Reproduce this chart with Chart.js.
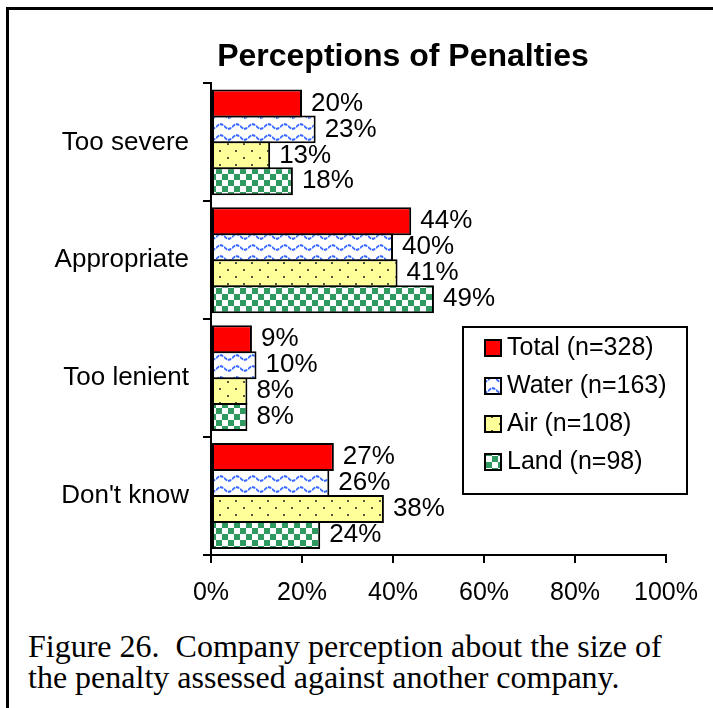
<!DOCTYPE html>
<html>
<head>
<meta charset="utf-8">
<title>Perceptions of Penalties</title>
<script src="https://cdn.jsdelivr.net/npm/chart.js@4/dist/chart.umd.min.js"></script>
<style>
    html, body { margin: 0; padding: 0; background: #fff; }
    body { width: 713px; height: 708px; position: relative; overflow: hidden; }
    #frame {
        position: absolute; left: 6px; top: 7px; width: 720px; height: 720px;
        border-left: 3px solid #000; border-top: 3px solid #000;
    }
    #chart { position: absolute; left: 0; top: 0; }
    #caption {
        position: absolute; left: 28px; top: 631px;
        font-family: 'Liberation Serif', 'Times New Roman', serif;
        font-size: 32px; line-height: 31px; color: #000; white-space: pre;
    }
</style>
</head>
<body>
<div id="frame"></div>
<canvas id="chart" width="713" height="615"></canvas>
<div id="caption">Figure 26.  Company perception about the size of
the penalty assessed against another company.</div>
<script>
// Data
const categories = ['Too severe', 'Appropriate', 'Too lenient', "Don't know"];
const seriesLabels = ['Total (n=328)', 'Water (n=163)', 'Air (n=108)', 'Land (n=98)'];
const totalValues = [20, 44, 9, 27];
const waterValues = [23, 40, 10, 26];
const airValues = [13, 41, 8, 38];
const landValues = [18, 49, 8, 24];
const axisMin = 0;
const axisMax = 100;
const axisStep = 20;

const FONT = "'Liberation Sans', Arial, sans-serif";
const canvas = document.getElementById('chart');
const ctx = canvas.getContext('2d');

// Fill patterns
function makePattern(w, h, draw) {
    const tile = document.createElement('canvas');
    tile.width = w;
    tile.height = h;
    draw(tile.getContext('2d'), w, h);
    return ctx.createPattern(tile, 'repeat');
}

const fills = [
    '#ff0000',
    makePattern(16, 11, (g, w, h) => {
        g.fillStyle = '#ffffff';
        g.fillRect(0, 0, w, h);
        g.fillStyle = '#3366ff';
        for (let x = 0; x < w; x++) {
            if (x % 4 === 3) continue;
            const y = 4.5 + 2.3 * Math.sin(2 * Math.PI * x / w);
            g.fillRect(x, y, 1.3, 2);
        }
    }),
    makePattern(16, 14, (g, w, h) => {
        g.fillStyle = '#ffff99';
        g.fillRect(0, 0, w, h);
        g.fillStyle = '#55553a';
        g.fillRect(3, 3, 2, 2);
        g.fillRect(11, 10, 2, 2);
    }),
    makePattern(12, 12, (g, w, h) => {
        g.fillStyle = '#ffffff';
        g.fillRect(0, 0, w, h);
        g.fillStyle = '#2f9a60';
        g.fillRect(0, 0, 6, 6);
        g.fillRect(6, 6, 6, 6);
    })
];

// Title is centred over the left part of the figure, as in the original
const titlePlacement = {
    id: 'titlePlacement',
    afterLayout(chart) {
        if (chart.titleBlock) {
            chart.titleBlock.left = 140;
            chart.titleBlock.right = chart.chartArea.right;
        }
    }
};

// Value labels at the end of each bar
const valueLabels = {
    id: 'valueLabels',
    afterDatasetsDraw(chart) {
        const c = chart.ctx;
        c.save();
        c.font = `26px ${FONT}`;
        c.fillStyle = '#000';
        c.textAlign = 'left';
        c.textBaseline = 'middle';
        chart.data.datasets.forEach((ds, i) => {
            chart.getDatasetMeta(i).data.forEach((bar, j) => {
                c.fillText(`${ds.data[j]}%`, bar.x + 9, bar.y);
            });
        });
        c.restore();
    }
};

// Boxed legend inside the plot
const boxLegend = {
    id: 'boxLegend',
    afterDraw(chart) {
        const c = chart.ctx;
        c.save();
        c.fillStyle = '#fff';
        c.fillRect(463, 327, 224, 167);
        c.lineWidth = 2;
        c.strokeStyle = '#000';
        c.strokeRect(463, 327, 224, 167);
        c.font = `25px ${FONT}`;
        c.textAlign = 'left';
        c.textBaseline = 'middle';
        chart.data.datasets.forEach((ds, i) => {
            const cy = 348 + i * 38;
            c.fillStyle = ds.backgroundColor;
            c.fillRect(485, cy - 8, 16, 16);
            c.strokeRect(485, cy - 8, 16, 16);
            c.fillStyle = '#000';
            c.fillText(ds.label, 507, cy);
        });
        c.restore();
    }
};

const seriesValues = [totalValues, waterValues, airValues, landValues];

new Chart(canvas, {
    type: 'bar',
    data: {
        labels: categories,
        datasets: seriesValues.map((values, i) => ({
            label: seriesLabels[i],
            data: values,
            backgroundColor: fills[i],
            borderColor: '#000',
            borderWidth: 2,
            borderSkipped: false,
            categoryPercentage: 0.881,
            barPercentage: 28 / 26
        }))
    },
    options: {
        indexAxis: 'y',
        responsive: false,
        animation: false,
        events: [],
        layout: {
            padding: { left: 0, right: 43, top: 0, bottom: 0 }
        },
        plugins: {
            legend: { display: false },
            tooltip: { enabled: false },
            title: {
                display: true,
                text: 'Perceptions of Penalties',
                color: '#000',
                font: { family: FONT, size: 32, weight: 'bold' },
                padding: { top: 38, bottom: 7 }
            }
        },
        scales: {
            x: {
                min: axisMin,
                max: axisMax,
                ticks: {
                    stepSize: axisStep,
                    callback: (v) => `${v}%`,
                    color: '#000',
                    font: { family: FONT, size: 25 },
                    padding: 15,
                    maxRotation: 0
                },
                grid: { drawOnChartArea: false, tickLength: 8, color: '#000', lineWidth: 2 },
                border: { color: '#000', width: 2 },
                afterFit: (scale) => { scale.height = 60; }
            },
            y: {
                ticks: {
                    color: '#000',
                    font: { family: FONT, size: 26 },
                    padding: 14
                },
                grid: { drawOnChartArea: false, tickLength: 8, color: '#000', lineWidth: 2, offset: true },
                border: { color: '#000', width: 2 },
                afterFit: (scale) => { scale.width = 211; }
            }
        }
    },
    plugins: [titlePlacement, valueLabels, boxLegend]
});
</script>
</body>
</html>
